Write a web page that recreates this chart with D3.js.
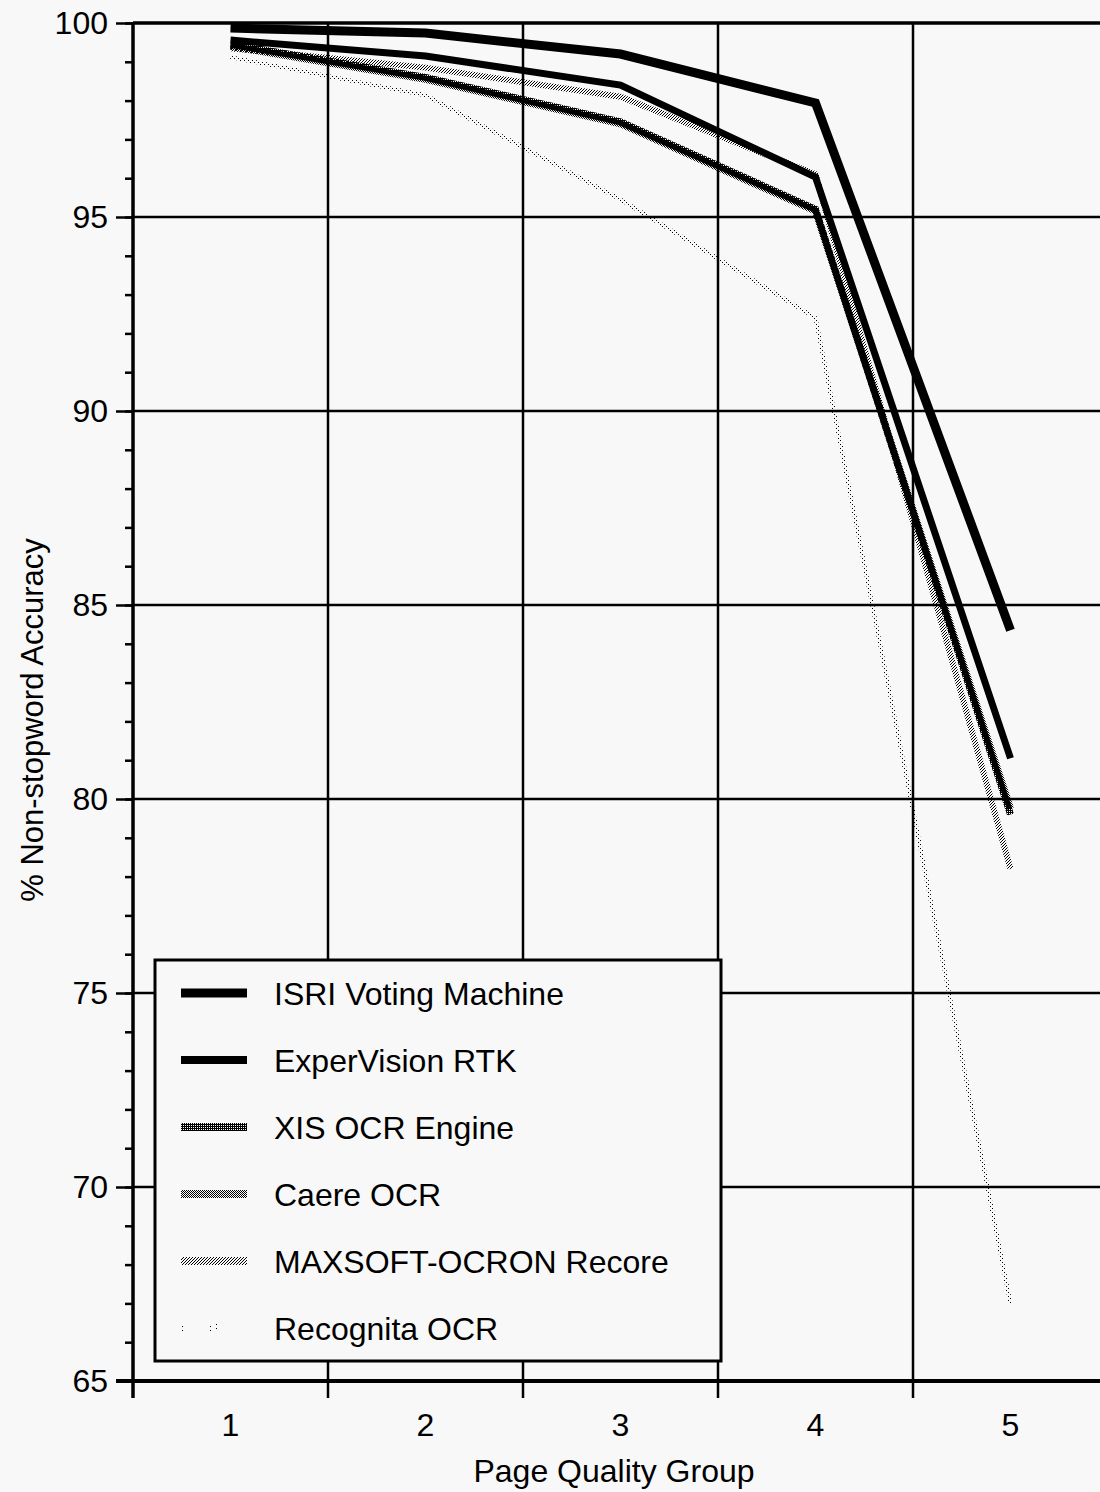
<!DOCTYPE html>
<html>
<head>
<meta charset="utf-8"/>
<title>Non-stopword Accuracy by Page Quality Group</title>
<style>
body { margin: 0; background: #f8f8f8; }
svg { display: block; }
text { font-family: "Liberation Sans", Arial, Helvetica, sans-serif; fill: #000; }
.grid line { stroke: #000; stroke-width: 2.5px; }
.axis path, .axis line { stroke: #000; }
</style>
</head>
<body>
<svg width="1100" height="1492"></svg>
<script src="https://cdn.jsdelivr.net/npm/d3@7/dist/d3.min.js"></script>
<script>

// data
var groups = [1, 2, 3, 4, 5];
var systems = ["ISRI Voting Machine", "ExperVision RTK", "XIS OCR Engine",
               "Caere OCR", "MAXSOFT-OCRON Recore", "Recognita OCR"];
var isri      = [99.87, 99.74, 99.20, 97.94, 84.35];
var expervis  = [99.56, 99.15, 98.40, 96.03, 81.05];
var xis       = [99.45, 98.60, 97.45, 95.20, 79.60];
var caere     = [99.40, 98.55, 97.40, 95.15, 79.75];
var maxsoft   = [99.35, 98.85, 98.10, 96.10, 78.20];
var recognita = [99.12, 98.14, 95.45, 92.40, 67.00];
var yTicks = [65, 70, 75, 80, 85, 90, 95, 100];

var series = [isri, expervis, xis, caere, maxsoft, recognita];

var svg = d3.select("svg"),
    plotLeft = 133, plotRight = 1108, plotTop = 23, plotBottom = 1381;

var x = d3.scaleBand().domain(groups).range([plotLeft, plotRight]).padding(0);
var y = d3.scaleLinear().domain([65, 100]).range([plotBottom, plotTop]);

// halftone patterns for the grey lines
var defs = svg.append("defs");
function checker(id, cells, size) {
  var p = defs.append("pattern").attr("id", id)
      .attr("patternUnits", "userSpaceOnUse")
      .attr("width", size).attr("height", size);
  cells.forEach(function(c) {
    p.append("rect").attr("x", c[0]).attr("y", c[1])
      .attr("width", 1).attr("height", 1).attr("fill", "#000");
  });
}
checker("dark", [[0, 0], [1, 0], [0, 1]], 2);
checker("mid", [[0, 0], [1, 1]], 2);
checker("light", [[0, 0], [2, 1], [1, 2]], 3);
checker("sparse", [[0, 0], [2, 2]], 4);

// grid
var grid = svg.append("g").attr("class", "grid");
grid.selectAll(".h").data(yTicks.slice(1)).enter().append("line")
    .attr("x1", plotLeft).attr("x2", 1100)
    .attr("y1", function(d) { return y(d); })
    .attr("y2", function(d) { return y(d); })
    .style("stroke-width", function(d) { return d === 100 ? 3.5 : 2.5; });
grid.selectAll(".v").data(groups).enter().append("line")
    .attr("x1", function(d) { return x(d) + x.bandwidth(); })
    .attr("x2", function(d) { return x(d) + x.bandwidth(); })
    .attr("y1", plotTop).attr("y2", plotBottom + 17);

// y axis, major + minor ticks
svg.append("g").attr("class", "axis")
    .attr("transform", "translate(" + plotLeft + ",0)")
    .call(d3.axisLeft(y).tickValues(d3.range(65, 101, 1)).tickSize(8).tickFormat(""))
    .call(function(g) { g.select(".domain").remove(); })
    .selectAll("line").style("stroke-width", 2.5);

svg.append("g").attr("class", "axis")
    .attr("transform", "translate(" + plotLeft + ",0)")
    .call(d3.axisLeft(y).tickValues(yTicks).tickSize(17).tickPadding(8))
    .call(function(g) {
      g.select(".domain").remove();
      g.selectAll("line").style("stroke-width", 2.5);
      g.selectAll("text").style("font-size", "32px");
    });

svg.append("line")
    .attr("x1", plotLeft).attr("x2", plotLeft).attr("y1", plotTop - 1).attr("y2", plotBottom + 17)
    .style("stroke", "#000").style("stroke-width", 3.5);

// x axis
svg.append("line")
    .attr("x1", plotLeft - 17).attr("x2", 1100).attr("y1", plotBottom).attr("y2", plotBottom)
    .style("stroke", "#000").style("stroke-width", 4);

svg.append("g").attr("class", "axis")
    .attr("transform", "translate(0," + plotBottom + ")")
    .call(d3.axisBottom(x).tickSize(0).tickPadding(32))
    .call(function(g) {
      g.select(".domain").remove();
      g.selectAll("text").style("font-size", "32px");
    });

svg.append("text")
    .attr("x", 614).attr("y", 1482)
    .attr("text-anchor", "middle")
    .style("font-size", "32px")
    .text("Page Quality Group");

svg.append("text")
    .attr("transform", "translate(43,720) rotate(-90)")
    .attr("text-anchor", "middle")
    .style("font-size", "31px")
    .text("% Non-stopword Accuracy");

// line styles per system
var styles = [
  { stroke: "#000", width: 9 },
  { stroke: "#000", width: 7 },
  { stroke: "url(#dark)", width: 7 },
  { stroke: "url(#mid)", width: 7 },
  { stroke: "url(#light)", width: 6 },
  { stroke: "url(#sparse)", width: 4 }
];

var line = d3.line()
    .x(function(d, i) { return x(groups[i]) + x.bandwidth() / 2; })
    .y(function(d) { return y(d); });

var order = [5, 3, 2, 4, 1, 0];
order.forEach(function(k) {
  var s = styles[k];
  svg.append("path")
      .attr("d", line(series[k]))
      .attr("fill", "none")
      .attr("stroke", s.stroke)
      .attr("stroke-width", s.width)
      .attr("stroke-linejoin", "miter");
});

// legend
var lg = svg.append("g");
lg.append("rect")
    .attr("x", 155).attr("y", 960).attr("width", 566).attr("height", 401)
    .attr("fill", "#f8f8f8").attr("stroke", "#000").attr("stroke-width", 3);

var rowY = d3.scalePoint().domain(systems).range([993, 1328]);

systems.forEach(function(name, k) {
  var s = styles[k], cy = rowY(name);
  lg.append("line")
      .attr("x1", 181).attr("x2", 247).attr("y1", cy).attr("y2", cy)
      .attr("stroke", s.stroke)
      .attr("stroke-width", k === 0 ? 9 : 8)
      .attr("stroke-dasharray", k === 5 ? "2,26,3,4,2,40" : null);
  lg.append("text")
      .attr("x", 274).attr("y", cy).attr("dy", "0.36em")
      .style("font-size", "32px")
      .text(name);
});

</script>
</body>
</html>
